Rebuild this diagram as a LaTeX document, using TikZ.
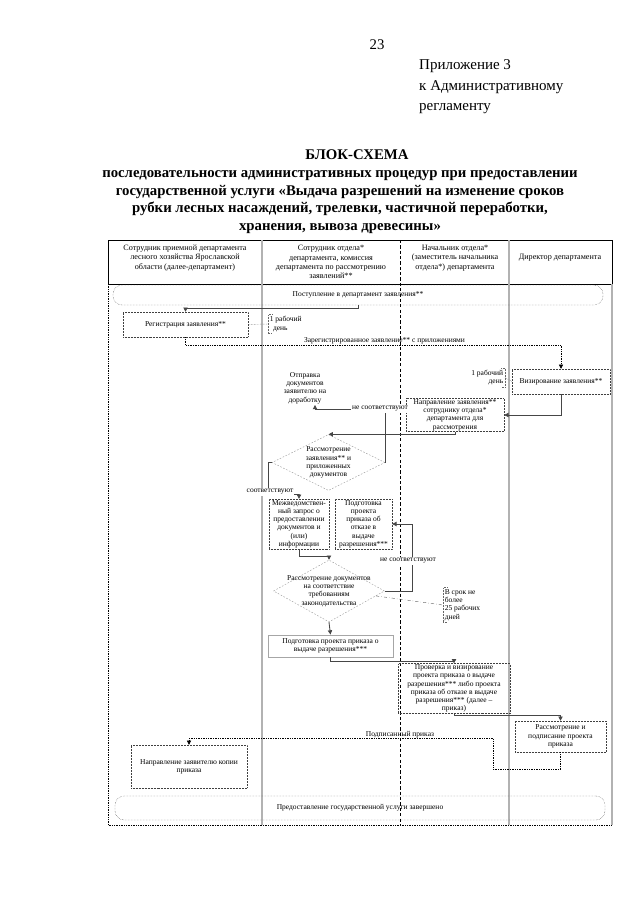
\documentclass[tikz,border=0pt]{standalone}
\usepackage{fontspec}
\setmainfont{Liberation Serif}
\usetikzlibrary{arrows.meta, positioning, shapes.geometric, calc}

\newcommand{\pxu}{0.0328cm}
\newcommand{\fstitle}{\fontsize{13.8}{16.5}\selectfont}
\newcommand{\fshead}{\fontsize{7.6}{8.6}\selectfont}
\newcommand{\fsbody}{\fontsize{7}{7.7}\selectfont}

\begin{document}
\begin{tikzpicture}[
  x=\pxu, y=-\pxu,
  >={Triangle[length=4pt, width=4pt]},
  stepbox/.style={draw=black!75, densely dotted, align=center, font=\fsbody, inner sep=1pt},
  solidbox/.style={stepbox, solid, draw=gray!70, line width=0.8pt},
  decision/.style={diamond, draw=gray!80, dash pattern=on 1.5pt off 1.5pt, inner sep=0pt},
  dtext/.style={align=center, font=\fsbody, inner sep=0pt},
  pill/.style={draw=black!75, densely dotted, rounded corners=3mm, font=\fsbody, minimum width=490*\pxu},
  hdr/.style={align=center, font=\fshead, inner sep=0pt},
  note/.style={font=\fsbody, inner sep=1.5pt},
  notel/.style={draw=black!60, densely dotted},
  lbl/.style={font=\fsbody, inner sep=1pt},
  flow/.style={->, draw=gray!55!black, line width=0.8pt},
  flowdot/.style={->, draw=black, densely dotted, line width=0.6pt},
  lane/.style={draw=gray!60, line width=1.2pt},
  laneb/.style={draw=black, densely dashed, line width=0.5pt}
]
  \useasboundingbox (0,0) rectangle (640,905);

  % Заголовок
  \node[font=\fstitle] (pageNum) at (377,45) {23};
  \node[anchor=west, align=left, inner sep=0pt, font=\fontsize{14}{19}\selectfont] (appendix) at (419,87)
    {Приложение 3\\к Административному\\регламенту};
  \node[font=\fstitle\bfseries] (titleHead) at (357,155) {БЛОК-СХЕМА};
  \node[font=\fstitle\bfseries, align=center, inner sep=0pt] (titleBody) at (340,202)
    {последовательности административных процедур при предоставлении\\
     государственной услуги «Выдача разрешений на изменение сроков\\
     рубки лесных насаждений, трелевки, частичной переработки,\\
     хранения, вывоза древесины»};

  % Таблица
  \draw[black, line width=0.5pt] (108,240) rectangle (612,284);
  \draw[black, densely dotted, line width=0.6pt] (108,284) -- (108,825) -- (612,825);
  \draw[lane] (612,284) -- (612,825);
  \draw[lane] (262,240) -- (262,825);
  \draw[laneb] (400,240) -- (400,825);
  \draw[lane] (509,240) -- (509,825);

  \node[hdr] (hdrA) at (185,258) {Сотрудник приемной департамента\\лесного хозяйства Ярославской\\области (далее-департамент)};
  \node[hdr] (hdrB) at (331,262) {Сотрудник отдела*\\департамента, комиссия\\департамента по рассмотрению\\заявлений**};
  \node[hdr] (hdrC) at (455,258) {Начальник отдела*\\(заместитель начальника\\отдела*) департамента};
  \node[hdr] (hdrD) at (560,258) {Директор департамента};

  % Блоки
  \node[pill, minimum height=20*\pxu] (pillStart) at (358,295) {Поступление в департамент заявления**};
  \node[stepbox, minimum width=125*\pxu, minimum height=25*\pxu] (regBox) at (185.5,324.5) {Регистрация заявления**};
  \node[note, anchor=west, align=left] (noteReg) at (268,324) {1 рабочий\\\hspace{3pt}день};
  \node[stepbox, minimum width=98*\pxu, minimum height=25*\pxu] (vizBox) at (561,381.5) {Визирование заявления**};
  \node[note, anchor=east, align=right] (noteViz) at (505,377.5) {1 рабочий\\день};
  \node[stepbox, minimum width=98*\pxu, minimum height=28*\pxu] (napBox) at (455,415)
    {Направление заявления**\\сотруднику отдела*\\департамента для\\рассмотрения};
  \node[lbl, align=center] (otpText) at (305,388) {Отправка\\документов\\заявителю на\\доработку};
  \node[decision, minimum width=113*\pxu, minimum height=56*\pxu,
    label={[dtext]center:Рассмотрение\\заявления** и\\приложенных\\документов}] (diamA) at (328.5,462.5) {};
  \node[stepbox, minimum width=60*\pxu, minimum height=46*\pxu] (mezhBox) at (299,524)
    {Межведомствен-\\ный запрос о\\предоставлении\\документов и\\(или)\\информации};
  \node[stepbox, minimum width=57*\pxu, minimum height=46*\pxu] (otkazBox) at (363.5,524)
    {Подготовка\\проекта\\приказа об\\отказе в\\выдаче\\разрешения***};
  \node[decision, minimum width=111*\pxu, minimum height=62*\pxu,
    label={[dtext]center:Рассмотрение документов\\на соответствие\\требованиям\\законодательства}] (diamB) at (329,591) {};
  \node[note, anchor=west, align=left] (noteTerm) at (443,605) {В срок не\\более\\25 рабочих\\дней};
  \node[solidbox, minimum width=125*\pxu, minimum height=22*\pxu] (vydBox) at (330.5,646)
    {Подготовка проекта приказа о\\выдаче разрешения***};
  \node[stepbox, minimum width=112*\pxu, minimum height=47*\pxu] (provBox) at (454,688.5)
    {Проверка и визирование\\проекта приказа о выдаче\\разрешения*** либо проекта\\приказа об отказе в выдаче\\разрешения*** (далее –\\приказ)};
  \node[stepbox, minimum width=91*\pxu, minimum height=31*\pxu] (rasBox) at (560.5,736.5)
    {Рассмотрение и\\подписание проекта\\приказа};
  \node[stepbox, minimum width=116*\pxu, minimum height=43*\pxu] (kopBox) at (189,766.5)
    {Направление заявителю копии\\приказа};
  \node[pill, minimum height=24*\pxu] (pillEnd) at (360,808) {Предоставление государственной услуги завершено};

  % Скобки примечаний
  \draw[notel] ($(noteReg.north west)+(4,0)$) -- (noteReg.north west) -- (noteReg.south west) -- ++(4,0);
  \draw[notel] (regBox.east) -- (noteReg.west);
  \draw[notel] ($(noteViz.north east)+(-4,0)$) -- (noteViz.north east) -- (noteViz.south east) -- ++(-4,0);
  \draw[notel] (noteViz.east) -- (vizBox.west);
  \draw[notel] ($(noteTerm.north west)+(4,0)$) -- (noteTerm.north west) -- (noteTerm.south west) -- ++(4,0);
  \draw[notel, dash dot] (diamB.-6) -- (noteTerm.west);

  % Стрелки
  \draw[flow] (pillStart.south) -- ++(0,3) -| (regBox.north);
  \draw[flowdot] (regBox.south) -- ++(0,8) -| node[pos=0.265, above, lbl] {Зарегистрированное заявление** с приложениями} (vizBox.north);
  \draw[flow] (vizBox.south) |- (napBox.east);
  \draw[flow] (napBox.south) |- (diamA.north);
  \draw[flow] (diamA.east) -- ++(0,-53) -| ($(otpText.south)+(10,0)$);
  \node[lbl, fill=white] (lblNoA) at (380,409) {не соответствуют};
  \draw[flow] (diamA.west) -- ++(-3,0) |- ($(mezhBox.north)+(0,-4)$) -- (mezhBox.north);
  \node[lbl, fill=white] (lblYesA) at (270,492) {соответствуют};
  \draw[flow] (mezhBox.south) -- ++(0,7) -| (diamB.north);
  \draw[flow] (diamB.east) -- ++(28,0) |- (otkazBox.east);
  \node[lbl, fill=white] (lblNoB) at (408,561) {не соответствуют};
  \draw[flow] (diamB.south) -- (vydBox.north);
  \draw[flow] (vydBox.south) -- ++(0,4) -| (provBox.north);
  \draw[flow] (provBox.south) |- ($(rasBox.north)+(0,-5)$) -- (rasBox.north);
  \draw[flowdot] (rasBox.south) -- ++(0,17) -- ++(-67,0) |- ($(kopBox.north)+(0,-6)$) -- (kopBox.north);
  \node[lbl, anchor=south] (lblSigned) at (400,739) {Подписанный приказ};
\end{tikzpicture}
\end{document}
